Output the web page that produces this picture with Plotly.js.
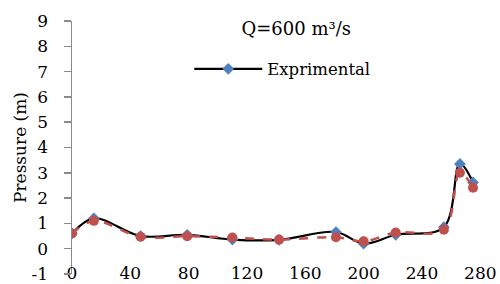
<!DOCTYPE html>
<html>
<head>
<meta charset="utf-8">
<script src="https://cdn.plot.ly/plotly-3.0.1.min.js"></script>
<style>html,body{margin:0;padding:0;background:#fff;}#chart{width:500px;height:284px;}</style>
</head>
<body>
<div id="chart"></div>
<script>
// Distance along the spillway (x) and measured / computed pressure heads (m)
const distance = [0, 15, 47, 79, 110, 142, 181, 200, 222, 255, 266, 275];
const experimental = [0.6, 1.2, 0.5, 0.55, 0.36, 0.35, 0.66, 0.2, 0.55, 0.85, 3.35, 2.62];
const numerical = [0.6, 1.1, 0.47, 0.49, 0.44, 0.36, 0.45, 0.29, 0.64, 0.75, 3.0, 2.41];
const xTicks = [0, 40, 80, 120, 160, 200, 240, 280];
const yTicks = [-1, 0, 1, 2, 3, 4, 5, 6, 7, 8, 9];
const titleText = "Q=600 m³/s";
const yTitle = "Pressure (m)";

const axisGray = "#8a8a8a";
const fontFam = "DejaVu Serif";

const traces = [
  {
    x: distance, y: experimental, name: "Exprimental", type: "scatter", mode: "lines+markers",
    line: {color: "#000000", width: 2.2, shape: "spline", smoothing: 1},
    marker: {symbol: "diamond", color: "#4F81BD", size: 9},
    showlegend: true
  },
  {
    x: distance, y: numerical, name: "Numerical", type: "scatter", mode: "lines+markers",
    line: {color: "#C0504D", width: 2.5, dash: "dash", shape: "spline", smoothing: 1},
    marker: {symbol: "circle", color: "#C0504D", size: 10},
    showlegend: false
  }
];

const layout = {
  width: 500, height: 284,
  margin: {l: 72, r: 0, t: 21, b: 10},
  paper_bgcolor: "#ffffff", plot_bgcolor: "rgba(0,0,0,0)",
  font: {family: fontFam, size: 17, color: "#000000"},
  title: {text: titleText, font: {family: fontFam, size: 18, color: "#000"},
          xref: "paper", x: 0.524, xanchor: "center", yref: "container", y: 0.9, yanchor: "middle"},
  showlegend: true,
  legend: {x: 0.274, y: 0.81, xanchor: "left", yanchor: "middle", bgcolor: "rgba(0,0,0,0)",
           itemwidth: 68,
           font: {family: fontFam, size: 16.5, color: "#000"}},
  xaxis: {
    range: [0, 293.5], tickvals: xTicks, ticktext: xTicks.map(String),
    showline: false, ticks: "", showgrid: false, zeroline: false,
    ticklabelstandoff: -13, ticklabeloverflow: "allow",
    tickfont: {family: fontFam, size: 17, color: "#000"}
  },
  xaxis2: {
    overlaying: "x", anchor: "free", position: 0.1, side: "bottom",
    range: [0, 293.5], tickvals: xTicks, showticklabels: false,
    showline: true, linecolor: axisGray, linewidth: 1.5,
    ticks: "outside", ticklen: 5, tickcolor: axisGray, tickwidth: 1.5,
    showgrid: false, zeroline: false
  },
  yaxis: {
    range: [-1, 9], tickvals: yTicks, ticktext: yTicks.map(String),
    showline: true, linecolor: axisGray, linewidth: 1.5,
    ticks: "outside", ticklen: 7, tickcolor: axisGray, tickwidth: 1.5,
    showgrid: false, zeroline: false, ticklabelstandoff: 12, ticklabeloverflow: "allow",
    tickfont: {family: fontFam, size: 17, color: "#000"},
    title: {text: yTitle, font: {family: fontFam, size: 17, color: "#000"}, standoff: 0}
  }
};

Plotly.newPlot("chart", traces, layout, {displayModeBar: false, staticPlot: true});
</script>
</body>
</html>
